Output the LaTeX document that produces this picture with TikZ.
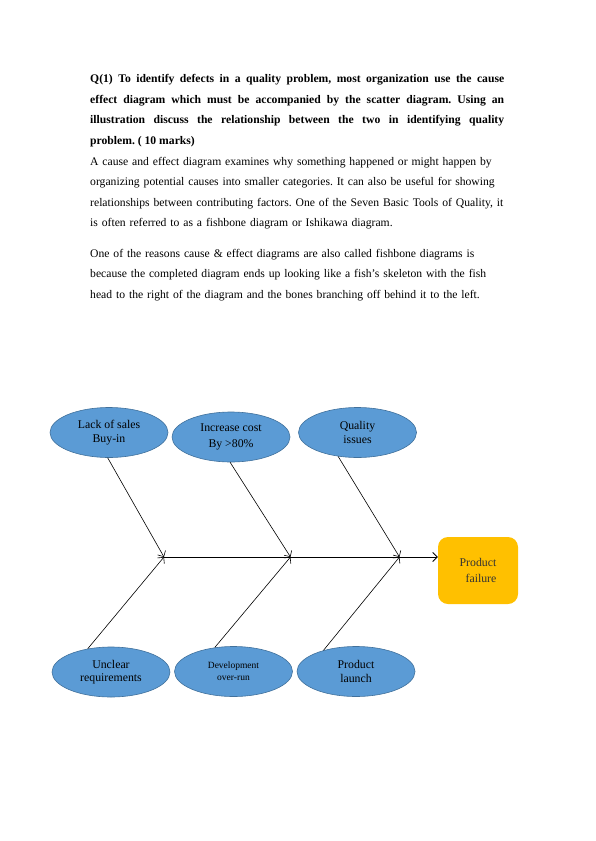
\documentclass[tikz,border=0pt]{standalone}
\usepackage{fontspec}
\setmainfont{Liberation Serif}
\usetikzlibrary{arrows.meta,shapes.geometric}
\definecolor{causeblue}{RGB}{91,155,213}
\definecolor{causeedge}{RGB}{65,113,156}
\definecolor{headorange}{RGB}{255,192,0}
\newcommand{\ParaFont}{\fontsize{11.65}{20.6}\selectfont\frenchspacing}
\tikzset{
  para/.style={anchor=base west, inner sep=0pt, text width=414pt, font=\ParaFont},
  cause/.style={ellipse, draw=causeedge, fill=causeblue, line width=0.6pt,
    minimum width=118pt, minimum height=50pt, inner sep=0pt, align=center,
    font=\fontsize{11.8}{13.5}\selectfont},   % blue cause bubble
  head/.style={rectangle, rounded corners=10pt, fill=headorange, minimum width=80pt,
    minimum height=67pt, align=center, text=black!80, font=\fontsize{11.8}{16}\selectfont},
  bone/.style={-{Straight Barb[length=4.5pt,width=9pt]}, line width=0.6pt},
  spine/.style={bone, line width=0.8pt}
}

\begin{document}
\begin{tikzpicture}[x=1pt, y=-1pt]
  \useasboundingbox (0,0) rectangle (595,841);
  % Question and text
  \node[para, align=justify, font=\ParaFont\bfseries] (question) at (90,82.5)
    {Q(1) To identify defects in a quality problem, most organization use the cause\linebreak
     effect diagram which must be accompanied by the scatter diagram. Using an\linebreak
     illustration discuss the relationship between the two in identifying quality\linebreak
     problem. ( 10 marks)};
  \node[para, align=left, text width=480pt] (para1) at (90,165)
    {A cause and effect diagram examines why something happened or might happen by\\
     organizing potential causes into smaller categories. It can also be useful for showing\\
     relationships between contributing factors. One of the Seven Basic Tools of Quality, it\\
     is often referred to as a fishbone diagram or Ishikawa diagram.};
  \node[para, align=left, text width=480pt] (para2) at (90,257)
    {One of the reasons cause \& effect diagrams are also called fishbone diagrams is\\
     because the completed diagram ends up looking like a fish's skeleton with the fish\\
     head to the right of the diagram and the bones branching off behind it to the left.};
  % Causes
  \node[cause] (lack) at (109,432.5) {Lack of sales\\Buy-in};
  \node[cause, font=\fontsize{11.8}{16}\selectfont] (cost) at (231,437) {Increase cost\\By >80\%};
  \node[cause] (quality) at (357.5,432.5) {Quality\\issues};
  \node[cause] (unclear) at (111,672) {Unclear\\requirements};
  \node[cause, font=\fontsize{9.5}{12}\selectfont] (devel) at (233.5,671.5) {Development\\over-run};
  \node[cause] (launch) at (356,671.5) {Product\\launch};
  % Effect
  \node[head] (failure) at (478,570.5) {Product\\\hspace*{6pt}failure};
  % Spine
  \coordinate (j1) at (164,557);
  \coordinate (j2) at (290.5,557);
  \coordinate (j3) at (399.5,557);
  \draw[spine] (j1) -- (j1 -| failure.west);
  \draw[bone] (lack.267) -- (j1);
  \draw[bone] (cost.268) -- (j2);
  \draw[bone] (quality.231) -- (j3);
  \draw[bone] (unclear.135) -- (j1);
  \draw[bone] (devel.128) -- (j2);
  \draw[bone] (launch.147) -- (j3);
\end{tikzpicture}
\end{document}
